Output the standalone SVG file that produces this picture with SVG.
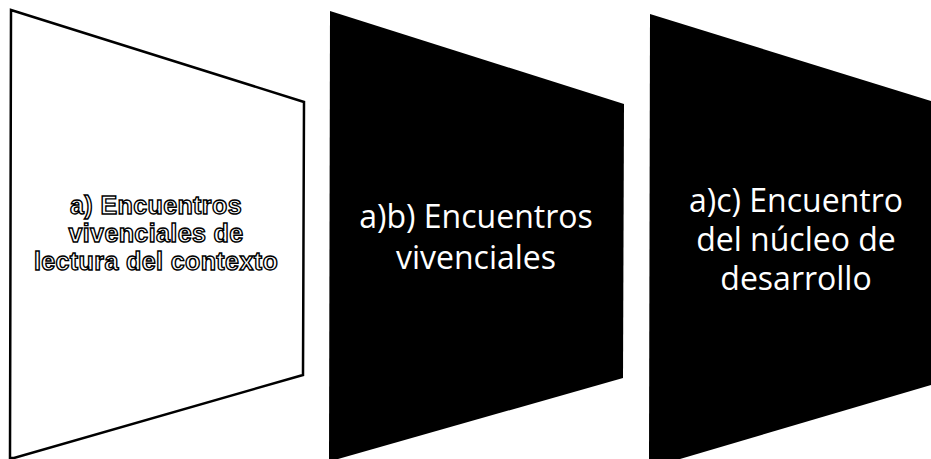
<svg xmlns="http://www.w3.org/2000/svg" width="931" height="459" viewBox="0 0 931 459">
<style>
.lbl{font-family:"Open Sans","Liberation Sans",sans-serif;text-anchor:middle}
.light{fill:#ffffff;font-size:32px}
.outline{font-family:"Liberation Sans",Arial,sans-serif;fill:#ffffff;stroke:#000;stroke-width:1.4px;font-weight:bold;font-size:25px;letter-spacing:0.4px}
</style>
<rect width="931" height="459" fill="#ffffff"/>
<g id="node1">
<polygon points="11,10 304,102 303,375 14,458 10,458" fill="#ffffff" stroke="#000" stroke-width="2.5" stroke-linejoin="miter"/>
<text class="lbl outline" x="156" y="214">a) Encuentros<tspan x="156" y="242">vivenciales de</tspan><tspan x="156" y="270">lectura del contexto</tspan></text>
</g>
<g id="node2">
<polygon points="330,11 624,104 623,378 338,459 329,459" fill="#000000"/>
<text class="lbl light" x="476" y="228">a)b) Encuentros<tspan x="476" y="269">vivenciales</tspan></text>
</g>
<g id="node3">
<polygon points="650,14 931,101 931,385 680,459 649,459" fill="#000000"/>
<text class="lbl light" x="796" y="212">a)c) Encuentro<tspan x="796" y="251">del núcleo de</tspan><tspan x="796" y="290">desarrollo</tspan></text>
</g>
<g id="connectors"></g>
</svg>
